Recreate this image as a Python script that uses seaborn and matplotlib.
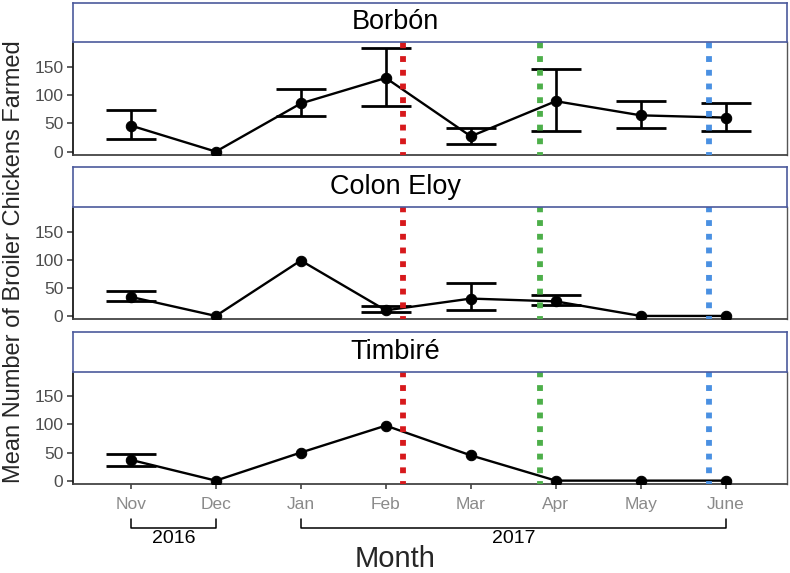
import numpy as np
import pandas as pd
import matplotlib
matplotlib.use("Agg")
import matplotlib.pyplot as plt
import matplotlib.transforms as mtransforms
import seaborn as sns

# ---------------------------------------------------------------
# data
# ---------------------------------------------------------------
months = ["Nov", "Dec", "Jan", "Feb", "Mar", "Apr", "May", "June"]
sites = ["Borbón", "Colon Eloy", "Timbiré"]

borbon_mean = [46, 0, 85, 130, 27, 89, 64, 60]
borbon_lo = [22, 0, 63, 80, 13, 36, 41, 37]
borbon_hi = [74, 0, 111, 183, 41, 145, 90, 86]

colon_mean = [34, 0, 99, 10, 31, 26, 0, 0]
colon_lo = [26, 0, 99, 7, 10, 19, 0, 0]
colon_hi = [44, 0, 99, 18, 58, 37, 0, 0]

timbire_mean = [37, 0, 50, 98, 45, 0, 0, 0]
timbire_lo = [26, 0, 50, 98, 45, 0, 0, 0]
timbire_hi = [48, 0, 50, 98, 45, 0, 0, 0]

# event dates, in months after Nov 2016
event_pos = [3.2, 4.81, 6.8]
event_colors = ["#D7191C", "#4DAF4A", "#4A90E2"]

years = ["2016", "2017"]
year_first = ["Nov", "Jan"]
year_last = ["Dec", "June"]

yticks = [0, 50, 100, 150]

# ---------------------------------------------------------------
sns.set_theme(style="white")
plt.rcParams["font.family"] = ["Liberation Sans", "DejaVu Sans"]

fig = plt.figure(figsize=(7.9, 5.73), dpi=100)
W, H = 790, 573
left, right = 73, 787
# (strip top, strip bottom, plot bottom) in pixels
panels_px = [(2.7, 41.7, 155.0), (167.3, 207.3, 319.3), (332.3, 371.7, 484.0)]

series = [
    (borbon_mean, borbon_lo, borbon_hi),
    (colon_mean, colon_lo, colon_hi),
    (timbire_mean, timbire_lo, timbire_hi),
]

pos = np.arange(len(months))
strip_edge = "#4C5A9C"

axes = []
for i, (site, (mean, lo, hi)) in enumerate(zip(sites, series)):
    s_top, s_bot, p_bot = panels_px[i]
    ax = fig.add_axes([left / W, 1 - p_bot / H, (right - left) / W, (p_bot - s_bot) / H])
    sax = fig.add_axes([left / W, 1 - s_bot / H, (right - left) / W, (s_bot - s_top) / H])

    df = pd.DataFrame({"pos": pos, "month": months, "mean": mean, "lo": lo, "hi": hi})
    err = df[df["hi"] > df["lo"]]
    ax.errorbar(err["pos"], err["mean"],
                yerr=[err["mean"] - err["lo"], err["hi"] - err["mean"]],
                fmt="none", ecolor="black", elinewidth=1.9,
                capsize=18, capthick=2.0, zorder=2)
    sns.lineplot(data=df, x="pos", y="mean", color="black", lw=1.7,
                 marker="o", markersize=7.5, markeredgecolor="black",
                 ax=ax, zorder=3)

    for p, c in zip(event_pos, event_colors):
        ax.axvline(p, color=c, lw=4.2, linestyle=(0.5, (1, 1.35)), zorder=5)

    ax.set_xlim(-0.68, 7.72)
    ax.set_ylim(-6, 194)
    ax.set_yticks(yticks)
    ax.set_xlabel("")
    ax.set_ylabel("")
    ax.spines["top"].set_visible(False)
    ax.spines["left"].set_color("#1a1a1a")
    ax.spines["left"].set_linewidth(1.3)
    ax.spines["bottom"].set_color("#444444")
    ax.spines["bottom"].set_linewidth(1.3)
    ax.spines["right"].set_color("#555555")
    ax.spines["right"].set_linewidth(1.0)
    ax.tick_params(axis="y", left=True, length=4.5, width=1.1, color="#333333",
                   pad=2.5, labelsize=12.5, labelcolor="#4D4D4D")
    if i == len(sites) - 1:
        ax.set_xticks(pos)
        ax.set_xticklabels(months)
        ax.tick_params(axis="x", bottom=True, length=3.5, width=1.1, color="#333333",
                       pad=6, labelsize=12.5, labelcolor="#8A8A8A")
    else:
        ax.set_xticks([])

    # facet strip
    sax.set_xticks([])
    sax.set_yticks([])
    sax.set_facecolor("white")
    for sp in sax.spines.values():
        sp.set_color(strip_edge)
        sp.set_linewidth(1.2)
    sax.text((W / 2 - left) / (right - left), 0.5, site, transform=sax.transAxes,
             ha="center", va="center", fontsize=19.5, color="black")
    axes.append(ax)

# year brackets under the bottom panel
bax = axes[-1]
trans = mtransforms.blended_transform_factory(bax.transData, bax.transAxes)
for yr, a, b in zip(years, year_first, year_last):
    x0, x1 = months.index(a), months.index(b)
    bax.plot([x0, x0, x1, x1], [-0.31, -0.392, -0.392, -0.31], color="black",
             lw=1.1, transform=trans, clip_on=False)
    bax.text((x0 + x1) / 2, -0.485, yr, transform=trans, ha="center", va="center",
             fontsize=14, color="black")

fig.text(0.5, 1 - 567 / H, "Month", ha="center", va="baseline", fontsize=21)
fig.text(0.018, 1 - 262 / H, "Mean Number of Broiler Chickens Farmed", rotation=90,
         ha="center", va="center", fontsize=17)

fig.savefig("out.png", dpi=100)
